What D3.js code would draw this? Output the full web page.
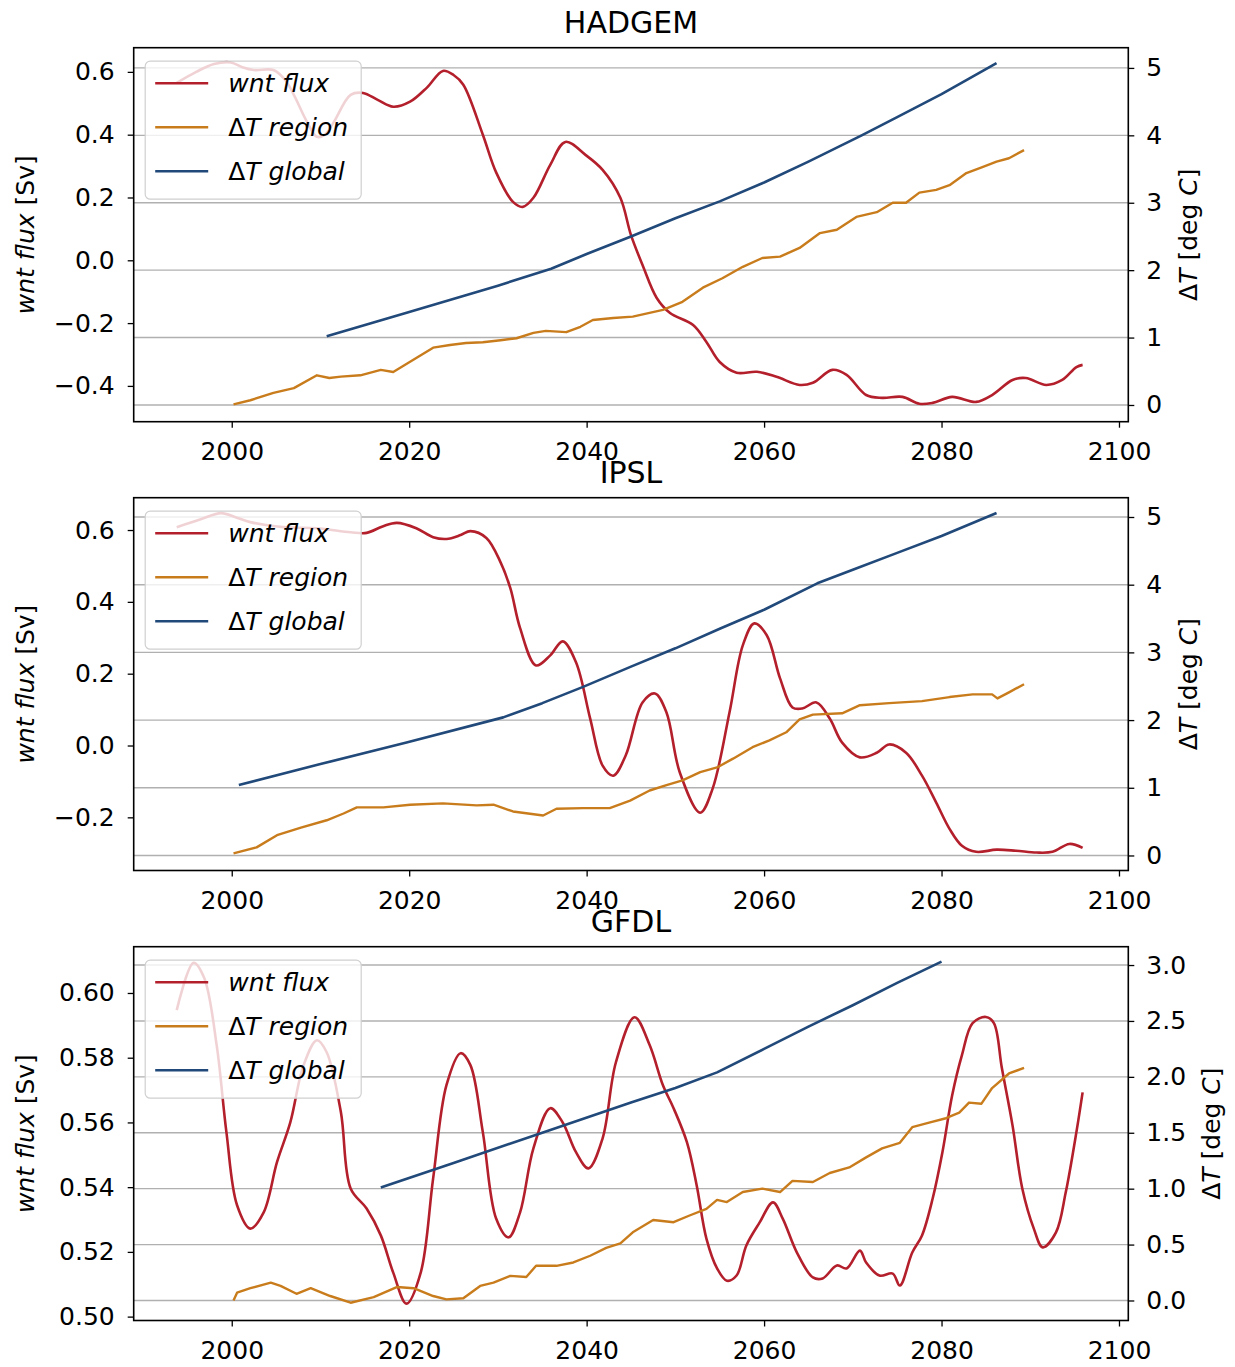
<!DOCTYPE html>
<html>
<head>
<meta charset="utf-8">
<script src="https://cdn.jsdelivr.net/npm/d3@7"></script>
<style>
  body { margin: 0; background: #fff; }
  text { font-family: "DejaVu Sans", sans-serif; fill: #000; }
</style>
</head>
<body>
<svg id="chart" width="1235" height="1367"></svg>
<script>
// values, [year, value]
const hadgemFlux = [[1993.8,0.565],[1996,0.60],[1998,0.625],[1999.9,0.63],[2001.2,0.615],[2002.5,0.606],[2004.7,0.606],[2006,0.575],[2007,0.527],[2008.5,0.44],[2009.6,0.393],[2010.5,0.40],[2011.5,0.44],[2013.4,0.527],[2014.8,0.533],[2016.5,0.51],[2018.2,0.489],[2020.1,0.505],[2022,0.55],[2023.8,0.603],[2025,0.59],[2026.1,0.559],[2028.3,0.40],[2029.8,0.28],[2031.7,0.186],[2032.8,0.17],[2034,0.199],[2035.9,0.304],[2037.6,0.377],[2039.9,0.335],[2041.8,0.288],[2043.8,0.199],[2045,0.08],[2046.3,-0.015],[2047.9,-0.12],[2049.4,-0.168],[2052,-0.206],[2053.5,-0.26],[2055,-0.324],[2056.9,-0.358],[2059.2,-0.355],[2061.4,-0.371],[2064,-0.397],[2065.5,-0.39],[2067.7,-0.349],[2069.3,-0.365],[2071.5,-0.429],[2073.3,-0.438],[2075.6,-0.435],[2077.5,-0.457],[2079,-0.454],[2081.2,-0.435],[2083.9,-0.451],[2085.7,-0.429],[2088,-0.381],[2089.5,-0.375],[2091.8,-0.397],[2093.6,-0.381],[2095.2,-0.34],[2095.9,-0.333]];
const hadgemRegion = [[2000.2,0.01],[2002.1,0.07],[2004.7,0.18],[2007,0.25],[2009.6,0.44],[2011,0.40],[2012.3,0.42],[2014.5,0.44],[2016.8,0.52],[2018.2,0.49],[2020.1,0.64],[2022.7,0.85],[2024.6,0.89],[2026.4,0.92],[2028.3,0.93],[2030.3,0.96],[2032.1,0.99],[2034,1.07],[2035.4,1.10],[2037.7,1.08],[2039.3,1.16],[2040.7,1.26],[2043,1.29],[2045.2,1.31],[2048.6,1.41],[2050.8,1.53],[2053.1,1.74],[2055.3,1.88],[2057.6,2.05],[2059.8,2.18],[2061.8,2.20],[2064,2.33],[2066.3,2.55],[2068.2,2.60],[2070.4,2.79],[2072.7,2.86],[2074.5,3.0],[2076,3.0],[2077.5,3.15],[2079.4,3.19],[2080.9,3.26],[2082.8,3.44],[2084.6,3.53],[2086.2,3.61],[2087.6,3.66],[2089.3,3.78]];
const hadgemGlobal = [[2010.7,1.02],[2020,1.38],[2030,1.77],[2036,2.02],[2040,2.24],[2045,2.50],[2050,2.77],[2055,3.02],[2060,3.30],[2065,3.61],[2071,4.0],[2075,4.27],[2080,4.61],[2086.2,5.07]];

const ipslFlux = [[1993.8,0.608],[1996.5,0.63],[1998.8,0.647],[2000.5,0.635],[2002.1,0.622],[2005.8,0.608],[2009.6,0.605],[2013.4,0.594],[2015.2,0.592],[2017,0.61],[2018.6,0.62],[2020.8,0.605],[2022.7,0.58],[2024.2,0.575],[2025.8,0.586],[2026.9,0.597],[2028.7,0.578],[2030.3,0.51],[2031.4,0.438],[2032.5,0.327],[2034.3,0.223],[2035.9,0.251],[2037.3,0.29],[2038.8,0.232],[2040.4,0.075],[2041.8,-0.056],[2043,-0.084],[2044.4,-0.028],[2046.3,0.12],[2047.7,0.145],[2049,0.092],[2050.5,-0.075],[2052.8,-0.187],[2054.2,-0.12],[2056.1,0.092],[2057.6,0.279],[2058.9,0.34],[2060.3,0.307],[2061.8,0.187],[2063.2,0.106],[2064.3,0.103],[2065.9,0.12],[2067.4,0.075],[2068.8,0.008],[2070.8,-0.033],[2072.7,-0.02],[2074.1,0.003],[2076,-0.02],[2077.8,-0.084],[2079.4,-0.159],[2080.9,-0.232],[2082.3,-0.279],[2083.9,-0.296],[2086.2,-0.29],[2088.4,-0.293],[2090.7,-0.298],[2092.5,-0.296],[2094.4,-0.274],[2095.9,-0.285]];
const ipslRegion = [[2000.2,0.03],[2002.8,0.12],[2005.1,0.30],[2007.8,0.41],[2010.7,0.52],[2012.6,0.62],[2014.1,0.71],[2017.1,0.71],[2020.1,0.75],[2023.8,0.77],[2027.6,0.74],[2029.5,0.75],[2031.7,0.65],[2035.1,0.59],[2036.6,0.69],[2039.6,0.70],[2042.6,0.70],[2044.9,0.81],[2047.1,0.96],[2049,1.04],[2050.8,1.11],[2052.8,1.23],[2054.7,1.30],[2056.5,1.43],[2058.7,1.60],[2060.6,1.70],[2062.5,1.82],[2064,2.01],[2065.5,2.08],[2068.8,2.10],[2070.8,2.22],[2074.1,2.25],[2077.8,2.28],[2080.9,2.34],[2083.5,2.38],[2085.7,2.38],[2086.3,2.32],[2087.6,2.41],[2089.3,2.53]];
const ipslGlobal = [[2000.8,1.04],[2010,1.35],[2019.7,1.67],[2030.6,2.04],[2035,2.25],[2039.6,2.49],[2045,2.79],[2050,3.06],[2055,3.35],[2060,3.63],[2066,4.02],[2070,4.22],[2075,4.47],[2080,4.72],[2086.2,5.06]];

const gfdlFlux = [[1993.8,0.5947],[1995.7,0.6093],[1996.9,0.6046],[1998.3,0.5839],[1999.4,0.557],[2000.6,0.5344],[2002.1,0.5272],[2003.6,0.5322],[2005.1,0.5477],[2006.6,0.56],[2008.1,0.5777],[2009.6,0.5854],[2010.7,0.5817],[2012.3,0.5632],[2013.4,0.5396],[2015.2,0.5334],[2016.8,0.5251],[2018.2,0.5136],[2019.7,0.504],[2021.3,0.5136],[2022.7,0.5427],[2024.2,0.5715],[2025.8,0.5814],[2026.9,0.5777],[2028.3,0.557],[2029.8,0.5303],[2031.2,0.5245],[2032.5,0.5322],[2034,0.552],[2035.9,0.5644],[2037.3,0.56],[2038.8,0.5508],[2040.2,0.5458],[2041.8,0.5551],[2043.3,0.5786],[2045.4,0.5925],[2047.1,0.5839],[2048.6,0.5715],[2049.8,0.5644],[2051.3,0.5539],[2052.4,0.5406],[2053.5,0.5241],[2054.7,0.5149],[2055.8,0.5111],[2056.9,0.5127],[2058,0.522],[2059.5,0.5291],[2061,0.5353],[2062.1,0.5303],[2063.7,0.5198],[2065.5,0.5121],[2066.6,0.5118],[2068.2,0.5158],[2069.3,0.5149],[2070.8,0.5204],[2071.5,0.5167],[2073,0.5127],[2074.5,0.5133],[2075.3,0.5096],[2076.7,0.5198],[2077.8,0.5251],[2079,0.5365],[2080.1,0.5508],[2081.2,0.5684],[2082.3,0.5808],[2083.5,0.5907],[2085,0.5926],[2085.9,0.5907],[2086.8,0.5768],[2088,0.5591],[2089.1,0.5396],[2090.4,0.5272],[2091.4,0.5214],[2092.9,0.526],[2094,0.5384],[2095.2,0.557],[2095.9,0.5693]];
const gfdlRegion = [[2000.2,0.0],[2000.6,0.07],[2002.1,0.11],[2004.4,0.16],[2005.5,0.13],[2007.3,0.06],[2008.9,0.11],[2011.1,0.04],[2013.4,-0.02],[2016,0.03],[2018.6,0.12],[2020.5,0.11],[2022.7,0.04],[2024.2,0.01],[2026.1,0.02],[2028,0.13],[2029.5,0.16],[2031.4,0.22],[2033.2,0.21],[2034.3,0.31],[2036.6,0.31],[2038.5,0.34],[2040.4,0.40],[2042.2,0.47],[2043.8,0.51],[2045.2,0.61],[2047.5,0.72],[2049.8,0.70],[2051.6,0.76],[2053.5,0.82],[2054.7,0.90],[2055.8,0.88],[2057.6,0.97],[2059.8,1.0],[2061.8,0.97],[2063.2,1.07],[2065.5,1.06],[2067.4,1.14],[2069.6,1.19],[2071.5,1.28],[2073.3,1.36],[2075.3,1.41],[2076.7,1.55],[2078.6,1.59],[2080.5,1.63],[2082,1.68],[2083.1,1.77],[2084.5,1.76],[2085.7,1.90],[2087.6,2.03],[2089.3,2.08]];
const gfdlGlobal = [[2016.8,1.01],[2025,1.23],[2035,1.50],[2045,1.77],[2050,1.90],[2054.7,2.04],[2060,2.25],[2065,2.45],[2070,2.64],[2075,2.84],[2080,3.03]];

const models = ['HADGEM', 'IPSL', 'GFDL'];
const xTicks = [2000, 2020, 2040, 2060, 2080, 2100];
const seriesNames = ['wnt flux', 'ΔT region', 'ΔT global'];
const colors = ['#b41f2c', '#c97c1c', '#21497a'];

// per panel: vertical extent and axis settings
const panels = [
  { name: models[0], top: 47.7, bottom: 421.7, flux: hadgemFlux, region: hadgemRegion, global: hadgemGlobal,
    leftDomain: [-0.514, 0.677], leftTicks: [-0.4, -0.2, 0, 0.2, 0.4, 0.6], leftFmt: '.1f',
    rightDomain: [-0.248, 5.30], rightTicks: [0, 1, 2, 3, 4, 5], rightFmt: 'd', rightLabelX: 1188 },
  { name: models[1], top: 497.7, bottom: 870.5, flux: ipslFlux, region: ipslRegion, global: ipslGlobal,
    leftDomain: [-0.348, 0.690], leftTicks: [-0.2, 0, 0.2, 0.4, 0.6], leftFmt: '.1f',
    rightDomain: [-0.222, 5.285], rightTicks: [0, 1, 2, 3, 4, 5], rightFmt: 'd', rightLabelX: 1188 },
  { name: models[2], top: 946.7, bottom: 1320.5, flux: gfdlFlux, region: gfdlRegion, global: gfdlGlobal,
    leftDomain: [0.4988, 0.6143], leftTicks: [0.50, 0.52, 0.54, 0.56, 0.58, 0.60], leftFmt: '.2f',
    rightDomain: [-0.179, 3.164], rightTicks: [0, 0.5, 1, 1.5, 2, 2.5, 3], rightFmt: '.1f', rightLabelX: 1211 }
];

const left = 133.7, right = 1128.3;
const svg = d3.select('#chart');

const x = d3.scaleLinear().domain([1988.95, 2101.05]).range([left, right]);

panels.forEach((p, i) => {
  const g = svg.append('g');
  const yL = d3.scaleLinear().domain(p.leftDomain).range([p.bottom, p.top]);
  const yR = d3.scaleLinear().domain(p.rightDomain).range([p.bottom, p.top]);

  g.append('clipPath').attr('id', 'clip' + i)
    .append('rect').attr('x', left).attr('y', p.top).attr('width', right - left).attr('height', p.bottom - p.top);

  const plot = g.append('g').attr('clip-path', `url(#clip${i})`);

  // grid lines of the right axis
  plot.selectAll('.grid').data(p.rightTicks).enter().append('line')
    .attr('x1', left).attr('x2', right)
    .attr('y1', d => yR(d)).attr('y2', d => yR(d))
    .attr('stroke', '#b0b0b0').attr('stroke-width', 1.4);

  const lineL = d3.line().x(d => x(d[0])).y(d => yL(d[1])).curve(d3.curveCatmullRom);
  const lineR = d3.line().x(d => x(d[0])).y(d => yR(d[1]));

  plot.append('path').datum(p.flux).attr('d', lineL)
    .attr('fill', 'none').attr('stroke', colors[0]).attr('stroke-width', 2.6);
  plot.append('path').datum(p.region).attr('d', lineR)
    .attr('fill', 'none').attr('stroke', colors[1]).attr('stroke-width', 2.4).attr('stroke-linejoin', 'round');
  plot.append('path').datum(p.global).attr('d', lineR)
    .attr('fill', 'none').attr('stroke', colors[2]).attr('stroke-width', 2.6).attr('stroke-linejoin', 'round');

  // axes
  const styleAxis = sel => {
    sel.select('.domain').remove();
    sel.selectAll('line').attr('stroke', '#000').attr('stroke-width', 1.3);
    sel.selectAll('text').attr('font-size', 25).attr('font-family', '"DejaVu Sans", sans-serif').attr('fill', '#000');
  };
  g.append('g').attr('transform', `translate(0,${p.bottom})`)
    .call(d3.axisBottom(x).tickValues(xTicks).tickFormat(d3.format('d')).tickSize(6).tickPadding(15))
    .call(styleAxis);
  g.append('g').attr('transform', `translate(${left},0)`)
    .call(d3.axisLeft(yL).tickValues(p.leftTicks).tickFormat(d3.format(p.leftFmt)).tickSize(6).tickPadding(13))
    .call(styleAxis);
  g.append('g').attr('transform', `translate(${right},0)`)
    .call(d3.axisRight(yR).tickValues(p.rightTicks).tickFormat(d3.format(p.rightFmt)).tickSize(6).tickPadding(12))
    .call(styleAxis);

  // frame
  g.append('rect').attr('x', left).attr('y', p.top).attr('width', right - left).attr('height', p.bottom - p.top)
    .attr('fill', 'none').attr('stroke', '#000').attr('stroke-width', 1.6);

  // legend
  const lg = g.append('g').attr('transform', `translate(${left + 11.5},${p.top + 13.5})`);
  lg.append('rect').attr('width', 216).attr('height', 138).attr('rx', 5)
    .attr('fill', '#fff').attr('fill-opacity', 0.8).attr('stroke', '#d0d0d0').attr('stroke-width', 1.2);
  seriesNames.forEach((s, k) => {
    const yy = 22 + k * 44;
    lg.append('line').attr('x1', 10).attr('x2', 63).attr('y1', yy).attr('y2', yy)
      .attr('stroke', colors[k]).attr('stroke-width', 2.6);
    const t = lg.append('text').attr('x', 83).attr('y', yy).attr('dy', '0.35em').attr('font-size', 25);
    if (s.startsWith('Δ')) {
      t.append('tspan').text('Δ');
      t.append('tspan').attr('font-style', 'italic').text(s.slice(1));
    } else {
      t.append('tspan').attr('font-style', 'italic').text(s);
    }
  });

  // title
  g.append('text').attr('x', (left + right) / 2).attr('y', p.top - 15)
    .attr('text-anchor', 'middle').attr('font-size', 30).text(p.name);

  // axis labels
  const mid = (p.top + p.bottom) / 2;
  const yl = g.append('text').attr('transform', `translate(25,${mid}) rotate(-90)`)
    .attr('text-anchor', 'middle').attr('dy', '0.35em').attr('font-size', 25);
  yl.append('tspan').attr('font-style', 'italic').text('wnt flux');
  yl.append('tspan').text(' [Sv]');

  const yr = g.append('text').attr('transform', `translate(${p.rightLabelX},${mid}) rotate(-90)`)
    .attr('text-anchor', 'middle').attr('dy', '0.35em').attr('font-size', 25);
  yr.append('tspan').text('Δ');
  yr.append('tspan').attr('font-style', 'italic').text('T');
  yr.append('tspan').text(' [deg ');
  yr.append('tspan').attr('font-style', 'italic').text('C');
  yr.append('tspan').text(']');
});
</script>
</body>
</html>
